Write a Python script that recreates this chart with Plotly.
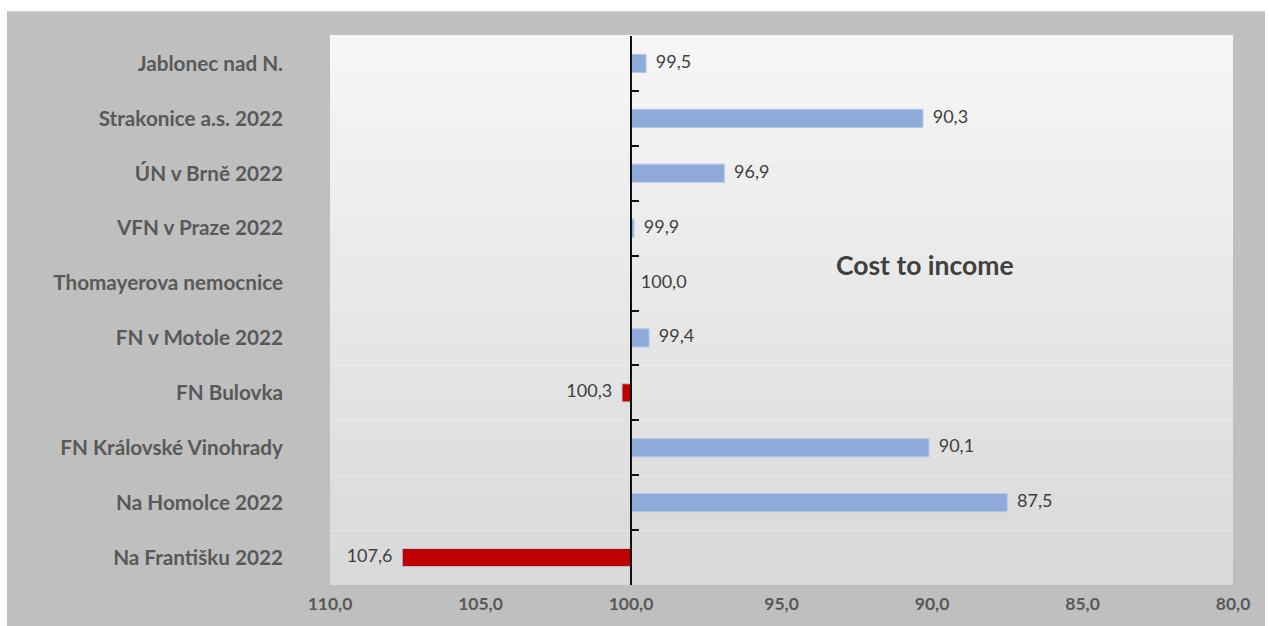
import plotly.graph_objects as go

categories = ["Jablonec nad N.", "Strakonice a.s. 2022", "ÚN v Brně 2022", "VFN v Praze 2022",
              "Thomayerova nemocnice", "FN v Motole 2022", "FN Bulovka", "FN Královské Vinohrady",
              "Na Homolce 2022", "Na Františku 2022"]
values = [99.5, 90.3, 96.9, 99.9, 100.0, 99.4, 100.3, 90.1, 87.5, 107.6]
baseline = 100.0
x_ticks = [110, 105, 100, 95, 90, 85, 80]

BLUE = "#8eaadb"
RED = "#c00000"
colors = [RED if v > baseline else BLUE for v in values]

W, H = 1269, 626
L, R, T, B = 330, 36, 36, 38
pw, ph = W - L - R, H - T - B

fig = go.Figure()
fig.add_trace(go.Bar(
    y=categories, x=[v - baseline for v in values], base=baseline, orientation="h",
    marker=dict(color=colors, line=dict(color="#b4c7e7", width=1)),
    width=0.33, hoverinfo="skip", showlegend=False,
))

for side, cond in (("middle right", lambda v: v <= baseline), ("middle left", lambda v: v > baseline)):
    ys = [c for c, v in zip(categories, values) if cond(v)]
    xs = [v for v in values if cond(v)]
    fig.add_trace(go.Scatter(
        y=ys, x=xs, mode="markers+text", text=[f"{v:.1f}".replace(".", ",") for v in xs],
        textposition=side, marker=dict(size=14, color="rgba(0,0,0,0)"),
        textfont=dict(family="Lato", size=18, color="#404040"),
        yaxis="y2", showlegend=False, hoverinfo="skip", cliponaxis=False,
    ))

shapes = []
# outer white margins
shapes.append(dict(type="rect", xref="paper", yref="paper", x0=-L / pw, x1=(7 - L) / pw,
                   y0=-B / ph - 0.1, y1=(H - B) / ph + 0.1, fillcolor="white", line_width=0, layer="below"))
shapes.append(dict(type="rect", xref="paper", yref="paper", x0=(1265 - L) / pw, x1=(W - L) / pw + 0.05,
                   y0=-B / ph - 0.1, y1=(H - B) / ph + 0.1, fillcolor="white", line_width=0, layer="below"))
shapes.append(dict(type="rect", xref="paper", yref="paper", x0=-L / pw - 0.05, x1=(W - L) / pw + 0.05,
                   y0=(H - B - 11) / ph, y1=(H - B) / ph + 0.1, fillcolor="white", line_width=0, layer="below"))
# gradient plot background
n = 60
for i in range(n):
    t = i / (n - 1)
    c0, c1 = 246, 217
    c = round(c0 + (c1 - c0) * t)
    shapes.append(dict(type="rect", xref="paper", yref="paper", x0=0, x1=1,
                       y0=1 - (i + 1) / n, y1=1 - i / n + 0.002,
                       fillcolor=f"rgb({c},{c},{c})", line_width=0, layer="below"))

yrange = [len(categories) - 0.5, -0.5]

fig.update_layout(
    width=W, height=H, margin=dict(l=L, r=R, t=T, b=B),
    paper_bgcolor="#bfbfbf", plot_bgcolor="rgba(0,0,0,0)",
    separators=", ", bargap=0.67,
    shapes=shapes,
    font=dict(family="Lato", color="#595959"),
    xaxis=dict(range=[110, 80], tickvals=x_ticks, tickformat=".1f", showgrid=False, zeroline=False,
               showline=False, ticks="", tickfont=dict(family="Lato", size=17.5, color="#595959", weight="bold"),
               ticklabelstandoff=6),
    yaxis=dict(categoryorder="array", categoryarray=categories, range=yrange, autorange=False,
               showgrid=False, zeroline=False, showline=False, ticks="",
               tickfont=dict(family="Lato", size=20.7, color="#595959", weight="bold"),
               ticklabelstandoff=46),
    yaxis2=dict(overlaying="y", anchor="free", position=(110 - baseline) / 30, side="left",
                categoryorder="array", categoryarray=categories, range=yrange, autorange=False,
                showline=True, linecolor="#111111", linewidth=2, ticks="inside", ticklen=7,
                tickcolor="#111111", tickwidth=2, tickson="boundaries", showticklabels=False,
                showgrid=True, gridcolor="rgba(255,255,255,0.35)", gridwidth=1, zeroline=False),
    annotations=[dict(text="<b>Cost to income</b>", xref="paper", yref="paper",
                      x=(925 - L) / pw, y=(H - B - 266) / ph, showarrow=False,
                      font=dict(family="Lato", size=26.5, color="#404040"))],
)

fig.write_html("out.html")
